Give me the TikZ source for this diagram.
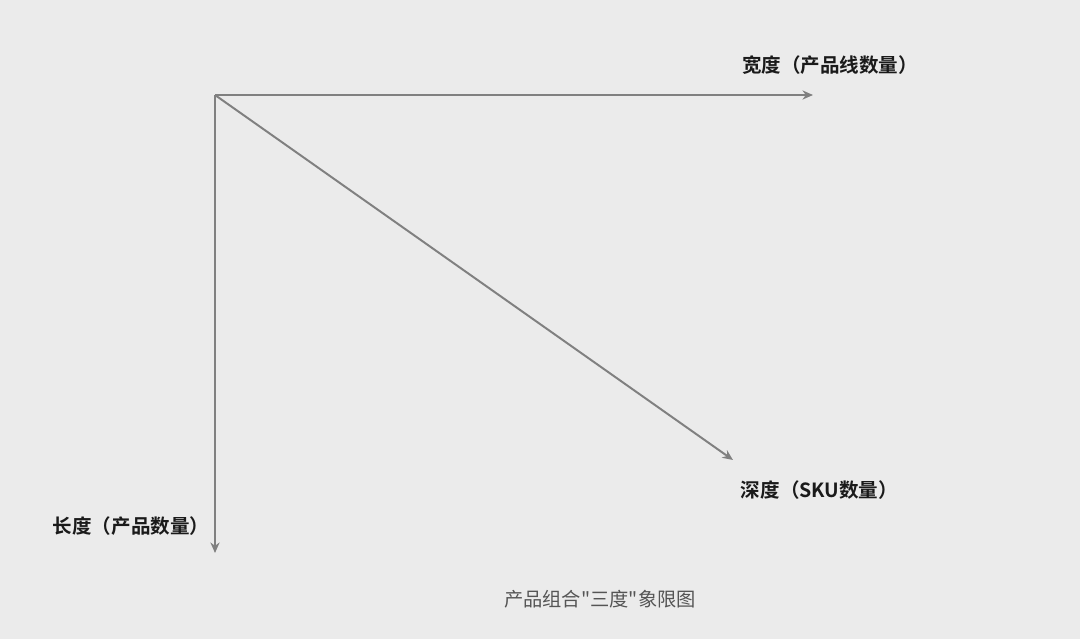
\documentclass[tikz,border=0pt]{standalone}
\usepackage{fontspec}
\usepackage{tikz}
\usetikzlibrary{arrows.meta, positioning}
\newfontfamily\cjk{Noto Sans CJK SC}[BoldFont={Noto Sans CJK SC Bold}]
\definecolor{bgcol}{HTML}{EBEBEB}
\definecolor{axiscol}{HTML}{808080}
\definecolor{labelcol}{HTML}{1A1A1A}
\definecolor{captioncol}{HTML}{555555}
\tikzset{
  axis/.style={draw=axiscol, line width=1.4pt, -{Stealth[length=7.5pt, width=6.5pt]}},
  axislabel/.style={inner sep=0pt, text=labelcol, font=\cjk\bfseries\fontsize{13.9}{17}\selectfont},
  caption/.style={inner sep=0pt, text=captioncol, font=\cjk\fontsize{13.7}{17}\selectfont},
}

\begin{document}
\begin{tikzpicture}[x=0.025cm, y=-0.025cm]
\fill[bgcol] (0,0) rectangle (1080,639);
\useasboundingbox (0,0) rectangle (1080,639);

% axes
\coordinate (o) at (215,95);
\coordinate (w) at (813,95);
\coordinate (l) at (215,553);
\coordinate (d) at (733,460);
\draw[axis] (o) -- (w);
\draw[axis] (o) -- (l);
\draw[axis] (o) -- (d);

% labels
\node[axislabel] (wlabel) at (830,65) {宽度（产品线数量）};
\node[axislabel] (llabel) at (131,526) {长度（产品数量）};
\node[axislabel] (dlabel) at (819.5,490) {深度（SKU数量）};
\node[caption] (title) at (600,599) {产品组合"三度"象限图};

\end{tikzpicture}
\end{document}
